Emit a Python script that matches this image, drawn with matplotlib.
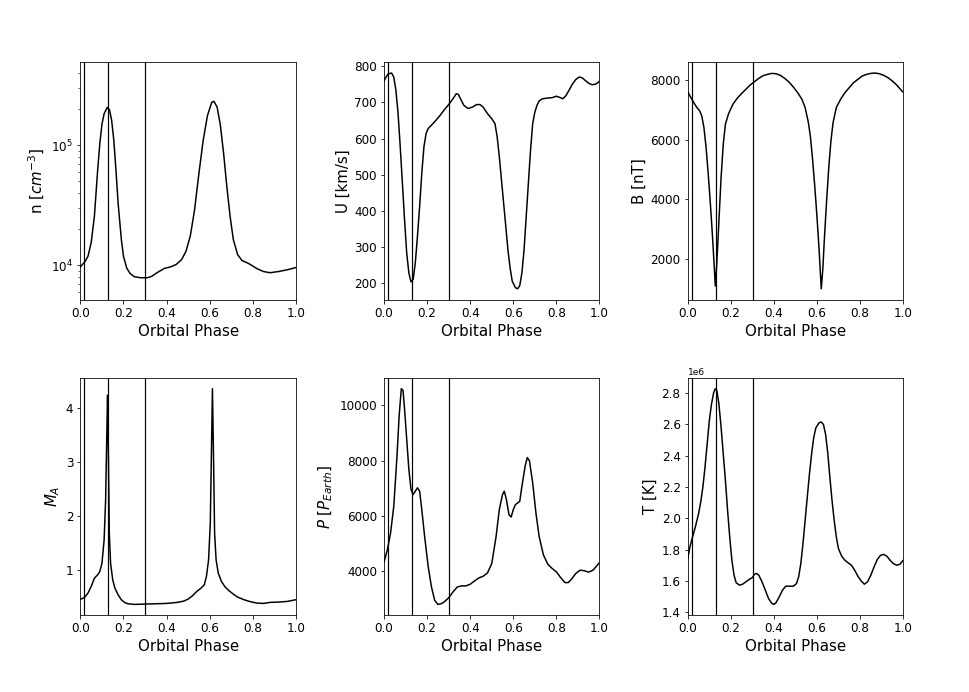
import numpy as np
import matplotlib
matplotlib.use("Agg")
import matplotlib.pyplot as plt
from matplotlib.ticker import MultipleLocator

# phase markers
vlines = [0.018, 0.129, 0.301]

# density n [cm^-3]
n_phase = [0.0, 0.02, 0.035, 0.05, 0.065, 0.08, 0.09, 0.1, 0.11, 0.125, 0.135, 0.145,
           0.155, 0.165, 0.175, 0.19, 0.2, 0.215, 0.23, 0.25, 0.28, 0.31, 0.33, 0.36,
           0.39, 0.42, 0.445, 0.47, 0.49, 0.51, 0.53, 0.55, 0.57, 0.59, 0.61, 0.62,
           0.635, 0.65, 0.665, 0.68, 0.695, 0.71, 0.73, 0.75, 0.78, 0.8, 0.82, 0.85,
           0.88, 0.92, 0.96, 1.0]
n_vals = [9.75e3, 1.07e4, 1.19e4, 1.55e4, 2.58e4, 6.2e4, 1.03e5, 1.5e5, 1.83e5, 2.07e5, 1.97e5, 1.61e5,
          1.1e5, 6.2e4, 3.3e4, 1.64e4, 1.19e4, 9.5e3, 8.6e3, 8.06e3, 7.9e3, 7.9e3, 8.1e3, 8.8e3,
          9.45e3, 9.75e3, 1.02e4, 1.12e4, 1.31e4, 1.75e4, 2.9e4, 5.8e4, 1.1e5, 1.77e5, 2.28e5, 2.32e5,
          2.07e5, 1.46e5, 8.5e4, 4.5e4, 2.56e4, 1.64e4, 1.23e4, 1.1e4, 1.04e4, 9.9e3, 9.4e3, 8.9e3,
          8.7e3, 8.9e3, 9.2e3, 9.6e3]

# velocity U [km/s]
u_phase = [0.0, 0.01, 0.02, 0.035, 0.045, 0.055, 0.065, 0.075, 0.085, 0.095, 0.105, 0.115,
           0.125, 0.135, 0.145, 0.155, 0.165, 0.175, 0.185, 0.195, 0.205, 0.22, 0.24, 0.26,
           0.28, 0.3, 0.32, 0.335, 0.345, 0.355, 0.37, 0.39, 0.41, 0.43, 0.445, 0.46,
           0.48, 0.5, 0.515, 0.525, 0.535, 0.545, 0.555, 0.565, 0.575, 0.585, 0.595, 0.61,
           0.62, 0.63, 0.64, 0.65, 0.66, 0.67, 0.68, 0.69, 0.7, 0.71, 0.72, 0.735,
           0.76, 0.78, 0.8, 0.815, 0.83, 0.845, 0.86, 0.875, 0.89, 0.905, 0.92, 0.935,
           0.95, 0.965, 0.98, 0.99, 1.0]
u_vals = [760, 771, 779, 781, 770, 733, 669, 577, 477, 376, 284, 229,
          204, 211, 257, 330, 412, 504, 577, 614, 628, 637, 650, 664,
          680, 694, 710, 724, 722, 710, 692, 683, 687, 694, 694, 687,
          669, 655, 641, 605, 550, 486, 422, 358, 293, 243, 206, 188,
          185, 194, 229, 293, 385, 477, 568, 641, 673, 692, 704, 710,
          712, 713, 717, 714, 710, 719, 735, 751, 763, 770, 768, 760,
          753, 749, 750, 753, 759]

# magnetic field B [nT]
b_phase = [0.0, 0.01, 0.025, 0.04, 0.055, 0.065, 0.075, 0.085, 0.095, 0.105, 0.115, 0.122,
           0.128, 0.135, 0.145, 0.155, 0.165, 0.175, 0.19, 0.21, 0.23, 0.25, 0.27, 0.29,
           0.31, 0.33, 0.35, 0.37, 0.39, 0.41, 0.43, 0.45, 0.47, 0.49, 0.51, 0.53,
           0.545, 0.56, 0.57, 0.58, 0.59, 0.6, 0.61, 0.615, 0.62, 0.627, 0.635, 0.645,
           0.655, 0.665, 0.675, 0.69, 0.71, 0.73, 0.75, 0.77, 0.79, 0.81, 0.83, 0.85,
           0.87, 0.89, 0.91, 0.93, 0.95, 0.97, 0.99, 1.0]
b_vals = [7622, 7478, 7289, 7111, 6978, 6811, 6422, 5756, 4867, 3867, 2756, 1867,
          1089, 1867, 3311, 4756, 5867, 6533, 6889, 7200, 7400, 7556, 7700, 7844,
          7956, 8067, 8156, 8200, 8233, 8222, 8167, 8067, 7944, 7778, 7589, 7367,
          7089, 6589, 6089, 5311, 4422, 3422, 2311, 1644, 1000, 1644, 2756, 3978,
          5089, 5978, 6589, 7089, 7367, 7589, 7756, 7922, 8033, 8144, 8200, 8233,
          8244, 8222, 8167, 8089, 7978, 7844, 7678, 7600]

# Alfven Mach number
ma_phase = [0.0, 0.01, 0.02, 0.035, 0.05, 0.065, 0.08, 0.09, 0.1, 0.11, 0.117, 0.122,
            0.126, 0.13, 0.134, 0.14, 0.15, 0.16, 0.175, 0.19, 0.205, 0.22, 0.25, 0.3,
            0.35, 0.4, 0.45, 0.48, 0.5, 0.52, 0.54, 0.56, 0.575, 0.585, 0.595, 0.603,
            0.608, 0.613, 0.618, 0.623, 0.63, 0.64, 0.655, 0.67, 0.69, 0.71, 0.73, 0.76,
            0.79, 0.82, 0.85, 0.88, 0.92, 0.96, 1.0]
ma_vals = [0.459, 0.471, 0.496, 0.57, 0.693, 0.846, 0.908, 0.969, 1.123, 1.553, 2.29, 3.4,
           4.23, 3.09, 1.676, 1.123, 0.816, 0.662, 0.539, 0.447, 0.398, 0.373, 0.361, 0.367,
           0.373, 0.379, 0.398, 0.422, 0.459, 0.52, 0.6, 0.662, 0.723, 0.877, 1.184, 1.86,
           3.09, 4.35, 3.09, 1.676, 1.184, 0.939, 0.785, 0.693, 0.613, 0.551, 0.496, 0.447,
           0.41, 0.385, 0.379, 0.398, 0.404, 0.416, 0.447]

# pressure P [P_Earth]
p_phase = [0.0, 0.015, 0.03, 0.045, 0.06, 0.07, 0.08, 0.088, 0.095, 0.105, 0.115, 0.125,
           0.135, 0.145, 0.155, 0.165, 0.175, 0.19, 0.205, 0.22, 0.235, 0.25, 0.265, 0.28,
           0.3, 0.32, 0.34, 0.36, 0.38, 0.4, 0.42, 0.44, 0.46, 0.48, 0.5, 0.52,
           0.535, 0.55, 0.558, 0.568, 0.58, 0.59, 0.6, 0.61, 0.62, 0.63, 0.64, 0.655,
           0.665, 0.675, 0.69, 0.705, 0.72, 0.74, 0.76, 0.78, 0.8, 0.82, 0.84, 0.855,
           0.87, 0.89, 0.91, 0.93, 0.95, 0.97, 0.99, 1.0]
p_vals = [4327, 4754, 5364, 6340, 8170, 9634, 10610, 10550, 9878, 8780, 7682, 6950,
          6767, 6890, 7011, 6890, 6218, 5120, 4144, 3412, 2924, 2778, 2800, 2875,
          3020, 3230, 3412, 3450, 3450, 3510, 3630, 3740, 3800, 3920, 4260, 5240,
          6220, 6770, 6890, 6585, 6035, 5950, 6220, 6400, 6460, 6520, 7070, 7800,
          8110, 7990, 7190, 6100, 5240, 4570, 4240, 4085, 3960, 3750, 3570, 3570,
          3690, 3900, 4020, 4000, 3950, 4020, 4200, 4300]

# temperature T [K]
t_phase = [0.0, 0.01, 0.02, 0.035, 0.05, 0.06, 0.07, 0.08, 0.09, 0.1, 0.11, 0.12,
           0.128, 0.135, 0.145, 0.155, 0.165, 0.175, 0.185, 0.195, 0.205, 0.215, 0.225, 0.24,
           0.255, 0.27, 0.285, 0.3, 0.31, 0.32, 0.33, 0.345, 0.36, 0.375, 0.39, 0.4,
           0.41, 0.425, 0.44, 0.455, 0.47, 0.49, 0.505, 0.515, 0.525, 0.535, 0.545, 0.555,
           0.565, 0.575, 0.585, 0.595, 0.61, 0.62, 0.63, 0.64, 0.65, 0.66, 0.67, 0.68,
           0.69, 0.7, 0.715, 0.73, 0.745, 0.76, 0.775, 0.79, 0.805, 0.82, 0.835, 0.85,
           0.865, 0.88, 0.895, 0.91, 0.925, 0.94, 0.955, 0.97, 0.985, 1.0]
t_vals = [1.743, 1.817, 1.870, 1.944, 2.028, 2.102, 2.197, 2.324, 2.472, 2.620, 2.726, 2.800,
          2.827, 2.815, 2.726, 2.578, 2.409, 2.240, 2.050, 1.880, 1.732, 1.637, 1.589, 1.574,
          1.580, 1.595, 1.610, 1.622, 1.644, 1.648, 1.637, 1.595, 1.542, 1.489, 1.458, 1.451,
          1.462, 1.500, 1.542, 1.567, 1.567, 1.567, 1.584, 1.627, 1.711, 1.838, 1.986, 2.134,
          2.282, 2.409, 2.515, 2.578, 2.610, 2.614, 2.599, 2.536, 2.419, 2.261, 2.113, 1.986,
          1.880, 1.806, 1.758, 1.732, 1.716, 1.701, 1.669, 1.631, 1.601, 1.580, 1.595, 1.637,
          1.690, 1.737, 1.764, 1.770, 1.758, 1.732, 1.711, 1.701, 1.707, 1.732]
t_vals = [v * 1e6 for v in t_vals]

panels = [
    (n_phase, n_vals, r"n [$cm^{-3}$]", None),
    (u_phase, u_vals, "U [km/s]", 100),
    (b_phase, b_vals, "B [nT]", 2000),
    (ma_phase, ma_vals, r"$M_A$", 1),
    (p_phase, p_vals, r"$P$ [$P_{Earth}$]", 2000),
    (t_phase, t_vals, "T [K]", 0.2e6),
]

fig, axes = plt.subplots(2, 3, figsize=(969 / 72, 692 / 72), dpi=72)
fig.subplots_adjust(left=0.083, right=0.932, bottom=0.111, top=0.910,
                    wspace=0.41, hspace=0.33)

for ax, (x, y, lab, step) in zip(axes.flat, panels):
    ax.plot(x, y, color="k", lw=1.5)
    for v in vlines:
        ax.axvline(v, color="k", lw=1.2)
    ax.set_xlim(0, 1)
    ax.set_xlabel("Orbital Phase", fontsize=15)
    ax.set_ylabel(lab, fontsize=15)
    ax.tick_params(labelsize=12)
    if step is not None:
        ax.yaxis.set_major_locator(MultipleLocator(step))
    ax.yaxis.get_offset_text().set_fontsize(9)

axes[0, 0].set_yscale("log")
axes[0, 0].set_ylim(5.2e3, 4.9e5)

fig.savefig("out.png", dpi=72)
